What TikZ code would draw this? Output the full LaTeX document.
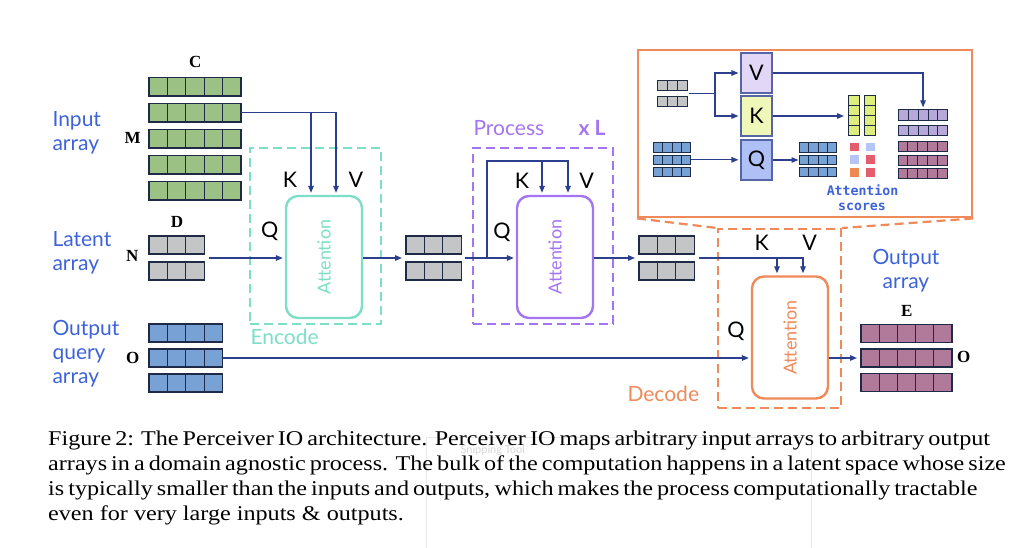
\documentclass[tikz,border=0pt]{standalone}
\usepackage{fontspec}
\setmainfont{Liberation Serif}
\newfontfamily\lblfont{Lato}
\newfontfamily\codefont{DejaVu Sans Mono}
\newfontfamily\captionserif[FakeStretch=1.15]{Liberation Serif}
\usetikzlibrary{arrows.meta,calc}

% palette
\definecolor{inkblue}{HTML}{2C3F8E}
\definecolor{cellink}{HTML}{1F2B46}
\definecolor{ingreen}{HTML}{9CC184}
\definecolor{latgray}{HTML}{C3C5C7}
\definecolor{qblue}{HTML}{78A2D6}
\definecolor{outmauve}{HTML}{B17A9A}
\definecolor{encteal}{HTML}{7DDFC6}
\definecolor{procpurple}{HTML}{A475F2}
\definecolor{decorange}{HTML}{EF8A5A}
\definecolor{labelblue}{HTML}{3D63DA}
\definecolor{vfill}{HTML}{E3D7F7}
\definecolor{kfill}{HTML}{EFF8B8}
\definecolor{qfill}{HTML}{AFC0F7}
\definecolor{ycol}{HTML}{DDEE7C}
\definecolor{vrow}{HTML}{B6A9DA}
\definecolor{scrred}{HTML}{E45D6D}
\definecolor{scrblue}{HTML}{B5C5F7}
\definecolor{scrorange}{HTML}{EE8952}

% font sizes (1pt = 1px of the drawing)
\newcommand\sideFont{\lblfont\fontsize{21}{24}\selectfont}
\newcommand\kvqFont{\lblfont\fontsize{21.5}{24}\selectfont}
\newcommand\attFont{\lblfont\fontsize{18}{20}\selectfont}
\newcommand\dimFont{\bfseries\fontsize{17}{19}\selectfont}
\newcommand\capFont{\captionserif\fontsize{21}{25}\selectfont}

% a block of cells: name, left, top, columns, rows, cell width, cell height, options
\newcommand\cellgrid[8]{%
  \foreach \ci in {1,...,#4}{%
    \foreach \ri in {1,...,#5}{%
      \draw[cellline,#8] ({#2+(\ci-1)*#6},{#3+(\ri-1)*#7}) rectangle ++(#6,#7);
    }%
  }%
  \node[inner sep=0pt, outer sep=0pt, minimum width={#4*#6*1pt},
        minimum height={#5*#7*1pt}, anchor=north west] (#1) at (#2,#3) {};%
}

\begin{document}
\begin{tikzpicture}[x=1pt,y=-1pt,
  conn/.style={draw=inkblue, line width=1.3pt},
  arr/.style={conn, -{Triangle[length=7pt,width=5.5pt]}, shorten >=2pt},
  cellline/.style={draw=cellink, line width=1.1pt},
  attbox/.style={draw, rounded corners=12pt, line width=2.4pt,
    minimum width=76pt, minimum height=122pt, inner sep=0pt},
  attlabel/.style={font=\attFont, rotate=90},
  dashframe/.style={draw, dash pattern=on 9pt off 5pt, line width=2.2pt,
    inner sep=0pt, anchor=north west},
  kvq/.style={font=\kvqFont, text=black, anchor=base},
  dimlbl/.style={font=\dimFont, anchor=base},
  sidelbl/.style={font=\sideFont, text=labelblue},
  stagelbl/.style={font=\sideFont, anchor=base west},
  mixbox/.style={draw=inkblue!80, line width=1.1pt, minimum width=31pt,
    minimum height=40pt, inner sep=0pt, font=\kvqFont},
  score/.style={inner sep=0pt, minimum width=9pt, minimum height=8.5pt,
    anchor=north west},
  capline/.style={font=\capFont, anchor=base west, inner sep=0pt}
]
\useasboundingbox (0,0) rectangle (1019,548);
\fill[white] (0,0) rectangle (1019,548);

% ---------- stage frames ----------
\node[dashframe, draw=encteal, minimum width=131pt, minimum height=176pt]
  (encframe) at (249,147) {};
\node[dashframe, draw=procpurple, minimum width=140pt, minimum height=176pt]
  (procframe) at (472,147) {};
\node[dashframe, draw=decorange, minimum width=123pt, minimum height=179pt]
  (decframe) at (717,228) {};

% ---------- attention blocks ----------
\node[attbox, draw=encteal] (encatt) at (324,257) {};
\node[attlabel, text=encteal] (encattlbl) at (encatt.center) {Attention};
\node[attbox, draw=procpurple] (procatt) at (555,257) {};
\node[attlabel, text=procpurple] (procattlbl) at (procatt.center) {Attention};
\node[attbox, draw=decorange] (decatt) at (790,337.5) {};
\node[attlabel, text=decorange] (decattlbl) at (decatt.center) {Attention};

% ---------- arrays ----------
\cellgrid{in1}{149}{77.5}{5}{1}{18.4}{18.5}{fill=ingreen}
\cellgrid{in2}{149}{103.5}{5}{1}{18.4}{18.5}{fill=ingreen}
\cellgrid{in3}{149}{129.5}{5}{1}{18.4}{18.5}{fill=ingreen}
\cellgrid{in4}{149}{155.5}{5}{1}{18.4}{18.5}{fill=ingreen}
\cellgrid{in5}{149}{181.5}{5}{1}{18.4}{18.5}{fill=ingreen}

\cellgrid{lat1a}{149}{236}{3}{1}{18.4}{18}{fill=latgray}
\cellgrid{lat1b}{149}{262}{3}{1}{18.4}{18}{fill=latgray}
\cellgrid{lat2a}{406}{236}{3}{1}{18.4}{18}{fill=latgray}
\cellgrid{lat2b}{406}{262}{3}{1}{18.4}{18}{fill=latgray}
\cellgrid{lat3a}{639}{236}{3}{1}{18.4}{18}{fill=latgray}
\cellgrid{lat3b}{639}{262}{3}{1}{18.4}{18}{fill=latgray}

\cellgrid{q1}{149}{324}{4}{1}{18.4}{18}{fill=qblue}
\cellgrid{q2}{149}{349}{4}{1}{18.4}{18}{fill=qblue}
\cellgrid{q3}{149}{374}{4}{1}{18.4}{18}{fill=qblue}

\cellgrid{o1}{861}{324.5}{5}{1}{18.2}{18}{fill=outmauve}
\cellgrid{o2}{861}{349}{5}{1}{18.2}{18}{fill=outmauve}
\cellgrid{o3}{861}{373.5}{5}{1}{18.2}{18}{fill=outmauve}

% ---------- side labels ----------
\node[sidelbl, anchor=base west] (lblin1) at (49,126.7) {Input};
\node[sidelbl, anchor=base west] (lblin2) at (49,150.7) {array};
\node[sidelbl, anchor=base west] (lbllat1) at (49,246.7) {Latent};
\node[sidelbl, anchor=base west] (lbllat2) at (49,270.7) {array};
\node[sidelbl, anchor=base west] (lblq1) at (49,335) {Output};
\node[sidelbl, anchor=base west] (lblq2) at (49,359) {query};
\node[sidelbl, anchor=base west] (lblq3) at (49,383) {array};
\node[sidelbl, anchor=base] (lblout1) at (906,264.3) {Output};
\node[sidelbl, anchor=base] (lblout2) at (906,288) {array};

% dimension letters
\node[dimlbl] (dimC) at (195.3,67.3) {C};
\node[dimlbl] (dimM) at (132.7,144) {M};
\node[dimlbl] (dimD) at (177,227.3) {D};
\node[dimlbl] (dimN) at (132.3,261.7) {N};
\node[dimlbl] (dimO) at (132.8,363.3) {O};
\node[dimlbl] (dimE) at (906.7,316.7) {E};
\node[dimlbl] (dimO2) at (963.8,362.7) {O};

% stage names
\node[stagelbl, text=encteal] (encname) at (247,344) {Encode};
\node[stagelbl, text=procpurple] (procname) at (470,136) {Process};
\node[stagelbl, text=procpurple, font=\sideFont\bfseries] (reps) at (575,136) {x L};
\node[stagelbl, text=decorange] (decname) at (624,401.5) {Decode};

% K / V / Q
\node[kvq] (encKl) at (290,187.3) {K};
\node[kvq] (encVl) at (356,187.3) {V};
\node[kvq] (encQl) at (269.7,237) {Q};
\node[kvq] (procKl) at (522,188.3) {K};
\node[kvq] (procVl) at (586.7,188.3) {V};
\node[kvq] (procQl) at (502,238) {Q};
\node[kvq] (decKl) at (761.7,250.7) {K};
\node[kvq] (decVl) at (809.7,250.7) {V};
\node[kvq] (decQl) at (736,337) {Q};

% ---------- connectors ----------
% encode
\coordinate (encK) at ([xshift=-13pt]encatt.north);
\coordinate (encV) at ([xshift=12pt]encatt.north);
\draw[arr] (in2.east) -| (encV);
\draw[arr] (encK |- in2.east) -- (encK);
\coordinate (lat1out) at ($(lat1a.east)!0.5!(lat1b.east)+(5,0)$);
\draw[arr] (lat1out) -- (lat1out -| encatt.west);
\draw[arr, shorten >=4pt] (encatt.east |- lat1out) -- (lat1out -| lat2a.west);

% process
\coordinate (lat2out) at ($(lat2a.east)!0.5!(lat2b.east)+(4,0)$);
\coordinate (procK) at ([xshift=-13pt]procatt.north);
\coordinate (procV) at ([xshift=13pt]procatt.north);
\coordinate (loopup) at (487,161);
\draw[arr] (lat2out) -- (lat2out -| procatt.west);
\draw[arr] (loopup |- lat2out) -- (loopup) -| (procV);
\draw[arr] (procK |- loopup) -- (procK);
\draw[arr, shorten >=4pt] (procatt.east |- lat2out) -- (lat2out -| lat3a.west);

% decode
\coordinate (lat3out) at ($(lat3a.east)!0.5!(lat3b.east)+(5,0)$);
\coordinate (decK) at ([xshift=-13pt]decatt.north);
\coordinate (decV) at ([xshift=13pt]decatt.north);
\draw[arr] (lat3out) -| (decV);
\draw[arr] (decK |- lat3out) -- (decK);
\draw[arr] (q2.east) -- (q2.east -| decatt.west);
\draw[arr, shorten >=4pt] (decatt.east |- o2.west) -- (o2.west);

% ---------- detail of the decoder's cross-attention ----------
\node[draw=decorange, line width=2.4pt, minimum width=334pt, minimum height=167pt,
  inner sep=0pt, anchor=north west] (zoombox) at (637,49) {};
\draw[decorange, dash pattern=on 9pt off 5pt, line width=2.2pt]
  (zoombox.south west) -- (decframe.north west);
\draw[decorange, dash pattern=on 9pt off 5pt, line width=2.2pt]
  (zoombox.south east) -- (decframe.north east);

\node[mixbox, fill=vfill] (vbox) at (756.5,73) {V};
\node[mixbox, fill=kfill] (kbox) at (756.5,116) {K};
\node[mixbox, fill=qfill] (qbox) at (756.5,160) {Q};

\cellgrid{zl1}{657}{80.5}{3}{1}{10}{10.3}{fill=latgray, line width=0.9pt}
\cellgrid{zl2}{657}{96}{3}{1}{10}{10.3}{fill=latgray, line width=0.9pt}

\cellgrid{zq1}{653.5}{142.7}{4}{1}{9.3}{9.6}{fill=qblue, line width=0.9pt}
\cellgrid{zq2}{653.5}{155}{4}{1}{9.3}{9.6}{fill=qblue, line width=0.9pt}
\cellgrid{zq3}{653.5}{167.3}{4}{1}{9.3}{9.6}{fill=qblue, line width=0.9pt}

\cellgrid{zqo1}{799.5}{142.7}{4}{1}{9.3}{9.6}{fill=qblue, line width=0.9pt}
\cellgrid{zqo2}{799.5}{155}{4}{1}{9.3}{9.6}{fill=qblue, line width=0.9pt}
\cellgrid{zqo3}{799.5}{167.3}{4}{1}{9.3}{9.6}{fill=qblue, line width=0.9pt}

\cellgrid{kc1}{848}{95}{1}{4}{11.3}{10.1}{fill=ycol, line width=0.9pt}
\cellgrid{kc2}{864.5}{95}{1}{4}{11.3}{10.1}{fill=ycol, line width=0.9pt}

\cellgrid{zv1}{898.3}{109.3}{5}{1}{9.9}{10.7}{fill=vrow, line width=0.9pt}
\cellgrid{zv2}{898.3}{125}{5}{1}{9.9}{10.7}{fill=vrow, line width=0.9pt}

\cellgrid{zm1}{898}{141.7}{5}{1}{9.8}{10}{fill=outmauve, line width=0.9pt}
\cellgrid{zm2}{898}{155}{5}{1}{9.8}{10}{fill=outmauve, line width=0.9pt}
\cellgrid{zm3}{898}{168.3}{5}{1}{9.8}{10}{fill=outmauve, line width=0.9pt}

% attention scores
\node[score, fill=scrred] (s11) at (849.3,142.7) {};
\node[score, fill=scrblue] (s12) at (866,142.7) {};
\node[score, fill=scrblue] (s21) at (849.3,155.3) {};
\node[score, fill=scrred] (s22) at (866,155.3) {};
\node[score, fill=scrorange] (s31) at (849.3,168.3) {};
\node[score, fill=scrred] (s32) at (866,168.3) {};
\node[font=\codefont\bfseries\fontsize{13.2}{15}\selectfont, text=labelblue,
  anchor=base] (scorelbl1) at (862.5,195) {Attention};
\node[font=\codefont\bfseries\fontsize{13.2}{15}\selectfont, text=labelblue,
  anchor=base] (scorelbl2) at (862,210) {scores};

% inner connectors
\coordinate (zlout) at ($(zl1.east)!0.5!(zl2.east)+(2,0)$);
\coordinate (zsplit) at ($(zlout)+(26,0)$);
\draw[conn] (zlout) -- (zsplit);
\draw[arr] (zsplit) |- (vbox.west);
\draw[arr] (zsplit) |- (kbox.west);
\draw[arr] (zq2.east) -- (zq2.east -| qbox.west);
\draw[arr, shorten >=1pt] (qbox.east) -- (qbox.east -| zqo2.west);
\draw[arr] (vbox.east) -| (zv1.north);
\draw[arr, shorten >=4pt] (kbox.east) -- (kbox.east -| kc1.west);

% ---------- caption ----------
\draw[black!9, line width=1pt] (426,548) -- (426,437) -- (811,437) -- (811,548);
\node[font=\lblfont\fontsize{11}{12}\selectfont, text=black!16, anchor=base west]
  (snip) at (457,453) {Snipping Tool};
\node[capline] (cap1) at (48,445)
  {\makebox[924pt][s]{Figure 2: The Perceiver IO architecture. Perceiver IO maps arbitrary input arrays to arbitrary output}};
\node[capline] (cap2) at (48,470)
  {\makebox[924pt][s]{arrays in a domain agnostic process. The bulk of the computation happens in a latent space whose size}};
\node[capline] (cap3) at (48,495)
  {\makebox[924pt][s]{is typically smaller than the inputs and outputs, which makes the process computationally tractable}};
\node[capline] (cap4) at (48,520)
  {even for very large inputs \& outputs.};
\end{tikzpicture}
\end{document}
